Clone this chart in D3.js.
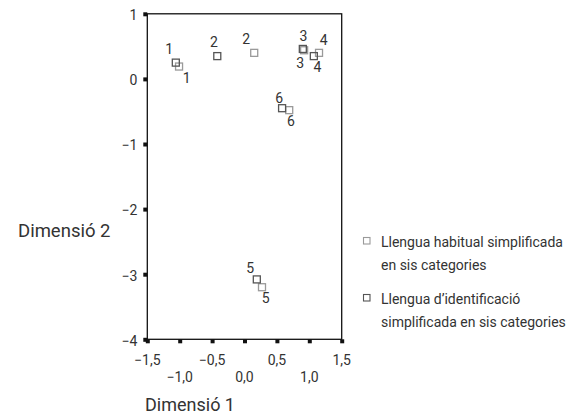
<!DOCTYPE html>
<html><head><meta charset="utf-8">
<script src="https://cdn.jsdelivr.net/npm/d3@7"></script>
<style>body{margin:0;background:#fff}text{font-family:Roboto,"Liberation Sans",sans-serif;fill:#333}</style>
</head><body>
<svg id="c" width="570" height="417"></svg>
<script>
const categories = ["1","2","3","4","5","6"];
const habitualX = [-1.01, 0.15, 0.92, 1.15, 0.27, 0.69];
const habitualY = [0.19, 0.40, 0.44, 0.40, -3.20, -0.48];
const identX = [-1.06, -0.42, 0.90, 1.07, 0.19, 0.58];
const identY = [0.25, 0.35, 0.46, 0.35, -3.08, -0.45];
const xTicksRow1 = [-1.5, -0.5, 0.5, 1.5];
const xTicksRow2 = [-1.0, 0.0, 1.0];
const yTicks = [1, 0, -1, -2, -3, -4];
const seriesNames = ["Llengua habitual simplificada|en sis categories", "Llengua d\u2019identificaci\u00f3|simplificada en sis categories"];

const svg = d3.select("#c");
const x = d3.scaleLinear().domain([-1.5, 1.5]).range([147.3, 341.7]);
const y = d3.scaleLinear().domain([-4, 1]).range([339.3, 13.8]);
const fmt = v => (v < 0 ? "\u2212" : "") + Math.abs(v).toFixed(1).replace(".", ",");

// label layout (offsets of the category numbers from their marker)
const habitualLabelOff = [[7.7,16.6],[-8,-9],[-0.7,-9.7],[4.6,-7.6],[3.7,16],[1.7,16.3]];
const identLabelOff = [[-6.7,-8.3],[-3.3,-9],[-2.7,19],[3.7,16],[-6.7,-6],[-3,-5.6]];

// frame
svg.append("rect").attr("x", x(-1.5)).attr("y", y(1)).attr("width", x(1.5) - x(-1.5)).attr("height", y(-4) - y(1))
  .attr("fill", "none").attr("stroke", "#111").attr("stroke-width", 1.3);

// y axis
const yAxis = d3.axisLeft(y).tickValues(yTicks).tickSize(0).tickPadding(10)
  .tickFormat(v => (v < 0 ? "\u2212" : "") + Math.abs(v));
const gy = svg.append("g").attr("transform", `translate(${x(-1.5)},0)`).call(yAxis);
gy.select(".domain").remove();
gy.selectAll("text").attr("font-size", 14).attr("fill", "#333").attr("dy", "0.42em").attr("font-family", "Roboto,sans-serif");
gy.selectAll(".tick").append("rect").attr("x", -4).attr("y", -2).attr("width", 4).attr("height", 4).attr("fill", "#111");

// x axis
const allX = xTicksRow1.concat(xTicksRow2);
const xAxis = d3.axisBottom(x).tickValues(allX).tickSize(0).tickFormat("");
const gx = svg.append("g").attr("transform", `translate(0,${y(-4)})`).call(xAxis);
gx.select(".domain").remove();
gx.selectAll(".tick").append("rect").attr("x", -2).attr("y", 0).attr("width", 4).attr("height", 4).attr("fill", "#111");
svg.append("g").selectAll("text").data(xTicksRow1).join("text")
  .attr("x", d => x(d)).attr("y", 365).attr("text-anchor", "middle").attr("font-size", 14).text(fmt);
svg.append("g").selectAll("text").data(xTicksRow2).join("text")
  .attr("x", d => x(d)).attr("y", 382).attr("text-anchor", "middle").attr("font-size", 14).text(fmt);

// axis titles
svg.append("text").attr("x", 145).attr("y", 411).attr("font-size", 18).text("Dimensi\u00f3 1");
svg.append("text").attr("x", 18).attr("y", 237).attr("font-size", 18.5).text("Dimensi\u00f3 2");

function series(xs, ys, offs, color) {
  const g = svg.append("g");
  g.selectAll("rect").data(categories).join("rect")
    .attr("x", (d, i) => x(xs[i]) - 3.5).attr("y", (d, i) => y(ys[i]) - 3.5)
    .attr("width", 7).attr("height", 7).attr("fill", "none").attr("stroke", color).attr("stroke-width", 1.3);
  g.selectAll("text").data(categories).join("text")
    .attr("x", (d, i) => x(xs[i]) + offs[i][0]).attr("y", (d, i) => y(ys[i]) + offs[i][1])
    .attr("text-anchor", "middle").attr("font-size", 14).text(d => d);
}
series(habitualX, habitualY, habitualLabelOff, "#9a9a9a");
series(identX, identY, identLabelOff, "#555");

// legend
const legColors = ["#9a9a9a", "#555"];
seriesNames.forEach((n, i) => {
  const cy = 241 + i * 57;
  svg.append("rect").attr("x", 363.5).attr("y", cy - 3.5).attr("width", 6.5).attr("height", 6.5)
    .attr("fill", "none").attr("stroke", legColors[i]).attr("stroke-width", 1.1);
  n.split("|").forEach((line, j) => {
    svg.append("text").attr("x", 381).attr("y", cy + 5.5 + j * 23.5).attr("font-size", 14).text(line);
  });
});
</script>
</body></html>
